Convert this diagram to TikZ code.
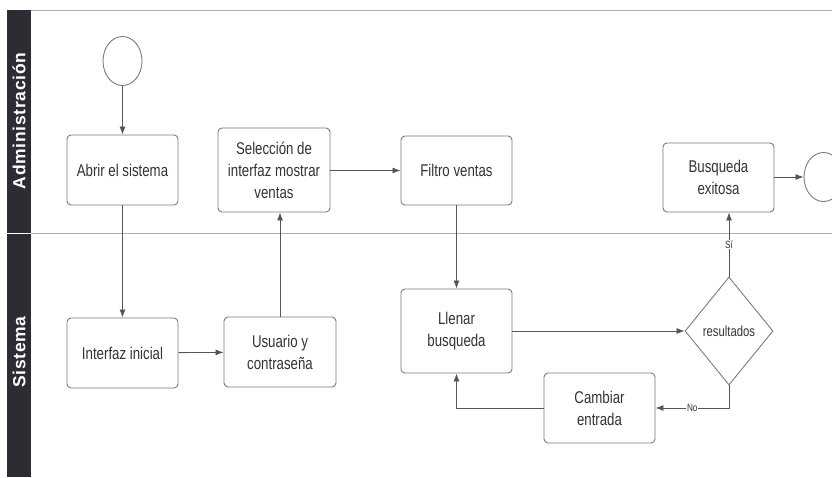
\documentclass[tikz,border=0pt]{standalone}
\usepackage{fontspec}
\setmainfont{Liberation Sans}
\newfontfamily\boxfont[FakeStretch=0.78]{Liberation Sans}
\newfontfamily\lanefont[LetterSpace=4]{Liberation Sans}
\usetikzlibrary{shapes.geometric,arrows.meta}
\definecolor{band}{HTML}{2B2D33}
\definecolor{ink}{HTML}{333333}
\definecolor{edge}{HTML}{7A7A7A}
\definecolor{flow}{HTML}{555555}
\definecolor{lane}{HTML}{B0B0B0}
\begin{document}
\begin{tikzpicture}[x=1pt,y=-1pt,
  task/.style={draw=edge,line width=0.9pt,rounded corners=4pt,fill=white,
    minimum width=111pt,minimum height=70pt,align=center,text=ink,
    font=\boxfont\fontsize{17}{22}\selectfont,inner sep=2pt},
  event/.style={draw=edge,line width=0.9pt,ellipse,fill=white,
    minimum width=39pt,minimum height=49pt,inner sep=0pt},
  gate/.style={draw=edge,line width=0.9pt,diamond,fill=white,
    minimum width=88pt,minimum height=108pt,inner sep=0pt,text=ink,
    font=\boxfont\fontsize{14.5}{18}\selectfont},
  flowline/.style={draw=flow,line width=0.8pt,-{Latex[length=8pt,width=6pt]}},
  tag/.style={fill=white,inner sep=1pt,text=ink,font=\boxfont\fontsize{10.5}{12}\selectfont},
  lanetitle/.style={text=white,rotate=90,font=\lanefont\bfseries\fontsize{17.5}{18}\selectfont}]
\useasboundingbox (0,0) rectangle (832,477);
\clip (0,0) rectangle (832,477);

% pool frame and lanes
\fill[band] (7,10) rectangle (31,232.5);
\fill[band] (7,233.5) rectangle (31,477);
\draw[lane,line width=0.9pt] (31,10) -- (832,10);
\draw[lane,line width=0.9pt] (31,233) -- (832,233);
\node[lanetitle] (laneA) at (19,121) {Administración};
\node[lanetitle] (laneS) at (19,352) {Sistema};

% flow objects
\node[event] (start) at (122.5,61) {};
\node[task] (abrir) at (122.5,170) {Abrir el sistema};
\node[task,minimum width=112pt,minimum height=84pt] (sel) at (274,170) {Selección de\\interfaz mostrar\\ventas};
\node[task,minimum height=69pt] (filtro) at (456.5,170.5) {Filtro ventas};
\node[task,minimum height=69pt] (busq) at (718.5,177.5) {Busqueda\\exitosa};
\node[event] (fin) at (823.5,177) {};
\node[task] (interfaz) at (122.5,353) {Interfaz inicial};
\node[task,minimum width=112pt] (usu) at (280,352) {Usuario y\\contraseña};
\node[task,minimum height=84pt] (llenar) at (456.5,331) {Llenar\\busqueda};
\node[gate] (dia) at (729,331) {resultados};
\node[task] (cambiar) at (599.5,408) {Cambiar\\entrada};

% sequence flows
\draw[flowline] (start) -- (abrir);
\draw[flowline] (abrir) -- (interfaz);
\draw[flowline] (interfaz) -- (usu);
\draw[flowline] (usu.north) -- (usu.north |- sel.south);
\draw[flowline] (sel.east |- filtro.west) -- (filtro.west);
\draw[flowline] (filtro) -- (llenar);
\draw[flowline] (llenar) -- (dia);
\draw[flowline] (dia.north) -- node[tag,pos=0.5] (si) {Sí} (dia.north |- busq.south);
\draw[flowline] (dia.south) |- node[tag,pos=0.75] (no) {No} (cambiar.east);
\draw[flowline] (cambiar.west) -| (llenar.south);
\draw[flowline] (busq.east |- fin.west) -- (fin.west);
\end{tikzpicture}
\end{document}
